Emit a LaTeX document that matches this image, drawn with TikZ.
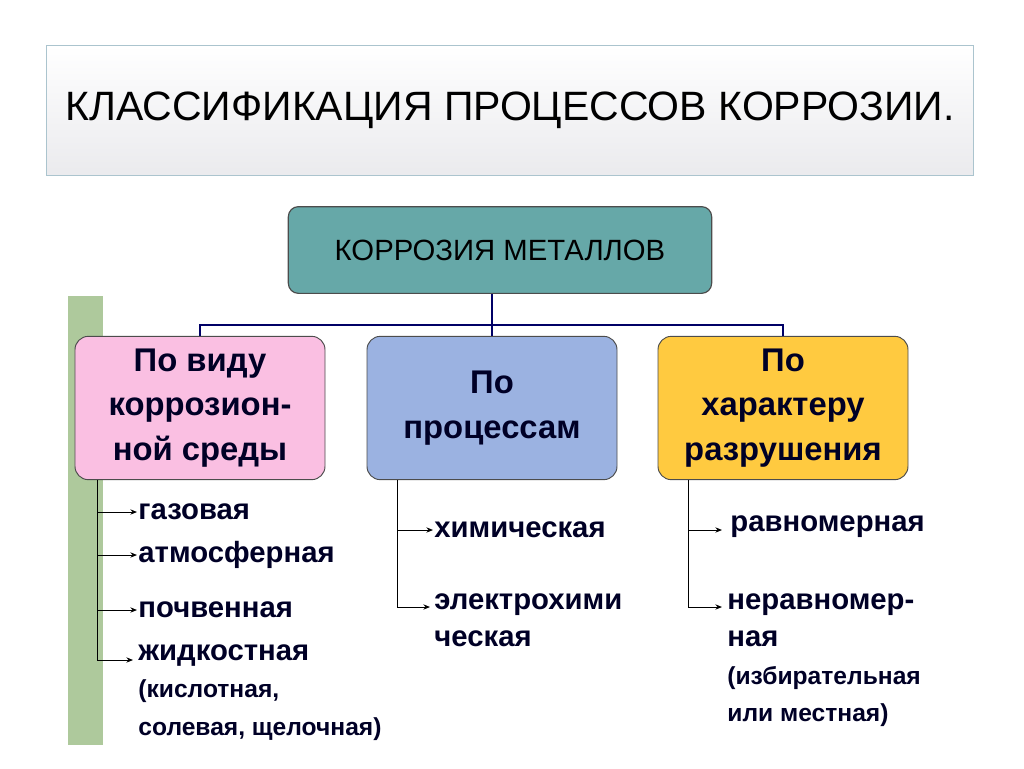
\documentclass[tikz,border=0pt]{standalone}
\usepackage{fontspec}
\setmainfont{Liberation Sans}
\usetikzlibrary{arrows.meta}
\newcommand\notefont{\fontsize{21}{32}\selectfont}

\begin{document}
\begin{tikzpicture}[x=0.3mm,y=-0.3mm,
    title/.style={draw=cyan!30!gray!60, top color=white, bottom color=blue!8!gray!15, minimum width=278mm, minimum height=39mm, font=\fontsize{35}{40}\selectfont},
    head/.style={draw=black!70, rounded corners=4mm, line width=0.8pt, minimum width=75mm, minimum height=43mm, align=center, font=\bfseries\fontsize{28}{38}\selectfont, text=black!85!blue},
    item/.style={anchor=west, align=left, inner sep=1pt, font=\bfseries\fontsize{25}{32}\selectfont, text=black!85!blue},
    link/.style={draw=blue!40!black, line width=1.2pt},
    arr/.style={-{Stealth[length=2mm,width=1.6mm]}, line width=0.8pt}]

    \useasboundingbox (0,0) rectangle (1024,768);
    \fill[green!45!lime!30!gray!60] (68,296) rectangle (103,745);

    \node[title] (title) at (510,110) {КЛАССИФИКАЦИЯ ПРОЦЕССОВ КОРРОЗИИ.};
    \node[draw=black!70, fill=teal!70!cyan!50!gray!80, rounded corners=3mm, line width=1pt, minimum width=127mm, minimum height=26mm, font=\fontsize{25}{30}\selectfont] (root) at (500,250) {КОРРОЗИЯ МЕТАЛЛОВ};

    \node[head, fill=magenta!25] (medium) at (200,408) {По виду\\коррозион-\\ной среды};
    \node[head, fill=cyan!45!blue!40!white] (process) at (492,408) {По\\процессам};
    \node[head, fill=orange!55!yellow!75] (damage) at (783,408) {По\\характеру\\разрушения};

    \coordinate (bus) at (492,325);
    \draw[link] (root.south -| bus) -- (bus);
    \draw[link] (medium.north) |- (bus) -| (damage.north);
    \draw[link] (bus) -- (process.north);

    % items
    \node[item] (gas) at (137,512) {газовая};
    \node[item] (atm) at (137,555) {атмосферная};
    \node[item] (soil) at (137,610) {почвенная};
    \node[item, anchor=north west] (liquid) at (137,643) {жидкостная\\{\notefont (кислотная,}\\{\notefont солевая, щелочная)}};
    \node[item] (chem) at (433,530) {химическая};
    \node[item, anchor=north west] (elec) at (433,592) {электрохими\\ческая};
    \node[item] (even) at (729,527) {равномерная};
    \node[item, anchor=north west] (uneven) at (726,592) {неравномер-\\ная\\{\notefont (избирательная}\\{\notefont или местная)}};

    \draw[line width=0.8pt] (97,480) -- (97,660);
    \foreach \n/\y in {gas/512, atm/555, soil/610}
        \draw[arr] (97,\y) -- (\n.west);
    \draw[arr] (97,660) -- (133,660);
    \draw[line width=0.8pt] (397,480) -- (397,607);
    \draw[arr] (397,530) -- (chem.west);
    \draw[arr] (397,607) -- (430,607);
    \draw[line width=0.8pt] (688,480) -- (688,607);
    \draw[arr] (688,530) -- (722,530);
    \draw[arr] (688,607) -- (722,607);
\end{tikzpicture}
\end{document}
